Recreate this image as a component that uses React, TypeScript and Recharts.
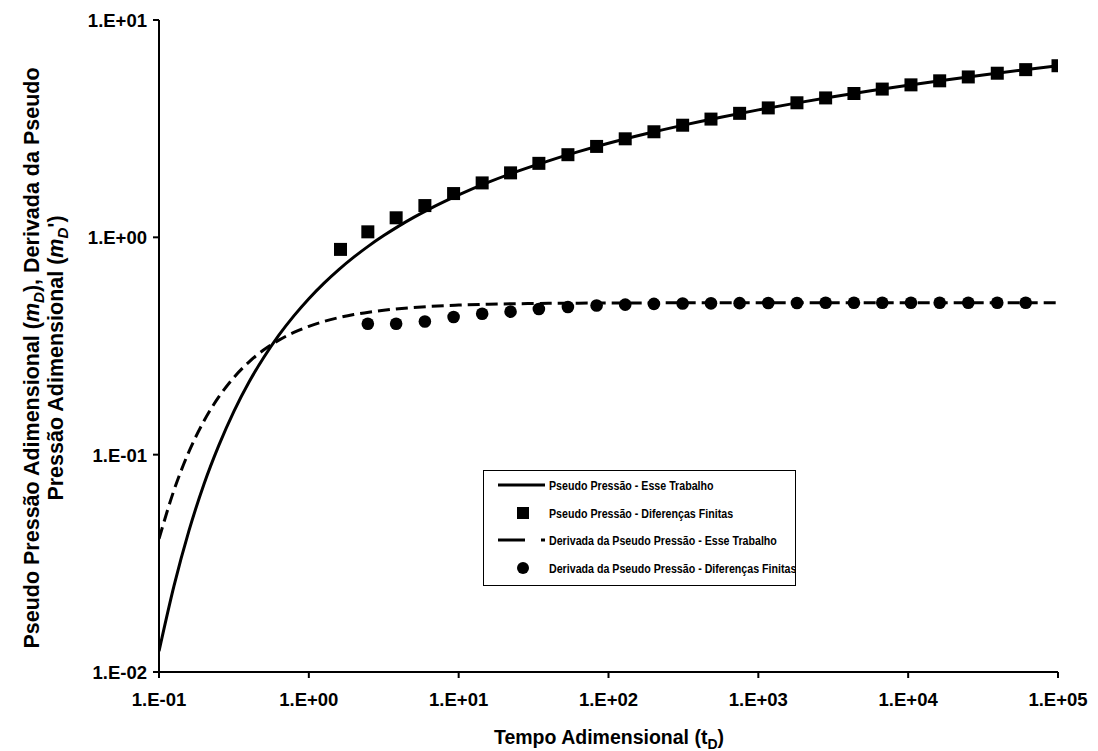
import React from 'react';
import { ComposedChart, Line, Scatter, XAxis, YAxis, Legend } from 'recharts';

// Analytical curves
const curveT = [0.1, 0.1259, 0.1585, 0.1995, 0.2512, 0.3162, 0.3981, 0.5012, 0.631, 0.7943, 1, 1.259, 1.585, 1.995, 2.512, 3.162, 3.981, 5.012, 6.31, 7.943, 10, 15.85, 25.12, 39.81, 63.1, 100, 177.8, 316.2, 562.3, 1000, 1778, 3162, 5623, 10000, 17783, 31623, 56234, 100000];
const curvePD = [0.01246, 0.0249, 0.0447, 0.0731, 0.1106, 0.1583, 0.2155, 0.2806, 0.3544, 0.435, 0.5221, 0.6142, 0.7108, 0.8107, 0.9137, 1.0187, 1.1262, 1.2349, 1.3455, 1.456, 1.5683, 1.7941, 2.0215, 2.2497, 2.4788, 2.7083, 2.995, 3.283, 3.571, 3.858, 4.146, 4.434, 4.722, 5.01, 5.298, 5.585, 5.873, 6.161];
const curveDeriv = [0.041, 0.0686, 0.1033, 0.1428, 0.1848, 0.2268, 0.2668, 0.3037, 0.3365, 0.365, 0.3894, 0.41, 0.4271, 0.4411, 0.4526, 0.462, 0.4696, 0.4757, 0.4806, 0.4845, 0.4877, 0.4922, 0.495, 0.4969, 0.498, 0.4988, 0.4993, 0.4996, 0.4998, 0.4999, 0.5, 0.5, 0.5, 0.5, 0.5, 0.5, 0.5, 0.5];

// Finite differences
const fdT = [1.627, 2.476, 3.826, 5.95, 9.25, 14.35, 22.2, 34.3, 53.6, 83.3, 129.3, 201, 312.5, 483, 750, 1165, 1810, 2813, 4346, 6715, 10440, 16230, 25190, 39330, 60870, 100000];
const fdPD = [0.88, 1.06, 1.23, 1.4, 1.59, 1.78, 1.98, 2.19, 2.4, 2.62, 2.84, 3.06, 3.28, 3.5, 3.72, 3.94, 4.16, 4.38, 4.59, 4.81, 5.03, 5.25, 5.47, 5.69, 5.91, 6.16];
const fdDerivT = [2.476, 3.826, 5.95, 9.25, 14.35, 22.2, 34.3, 53.6, 83.3, 129.3, 201, 312.5, 483, 750, 1165, 1810, 2813, 4346, 6715, 10440, 16230, 25190, 39330, 60870];
const fdDeriv = [0.4, 0.4, 0.41, 0.43, 0.445, 0.455, 0.468, 0.478, 0.486, 0.49, 0.494, 0.496, 0.497, 0.498, 0.499, 0.499, 0.5, 0.5, 0.5, 0.5, 0.5, 0.5, 0.5, 0.5];

const xTicks = [0.1, 1, 10, 100, 1000, 10000, 100000];
const xTickLabels = ['1.E-01', '1.E+00', '1.E+01', '1.E+02', '1.E+03', '1.E+04', '1.E+05'];
const yTicks = [0.01, 0.1, 1, 10];
const yTickLabels = ['1.E-02', '1.E-01', '1.E+00', '1.E+01'];

const legendLabels = [
  'Pseudo Pressão - Esse Trabalho',
  'Pseudo Pressão - Diferenças Finitas',
  'Derivada da Pseudo Pressão - Esse Trabalho',
  'Derivada da Pseudo Pressão - Diferenças Finitas',
];

const pdLine = curveT.map((t, i) => ({ t, v: curvePD[i] }));
const derivLine = curveT.map((t, i) => ({ t, v: curveDeriv[i] }));
const pdPoints = fdT.map((t, i) => ({ t, v: fdPD[i] }));
const derivPoints = fdDerivT.map((t, i) => ({ t, v: fdDeriv[i] }));

const FONT = "'Liberation Sans', Arial, Helvetica, sans-serif";

const findLabel = (ticks: number[], labels: string[], v: number) => {
  let best = 0;
  ticks.forEach((t, i) => {
    if (Math.abs(Math.log10(t) - Math.log10(v)) < Math.abs(Math.log10(ticks[best]) - Math.log10(v))) best = i;
  });
  return labels[best];
};

const XTick = (props: any) => {
  const { x, y, payload } = props;
  return (
    <text x={x} y={y} dy={26} textAnchor="middle" fontFamily={FONT} fontWeight="bold" fontSize={18.5} fill="#000">
      {findLabel(xTicks, xTickLabels, payload.value)}
    </text>
  );
};

const YTick = (props: any) => {
  const { x, y, payload } = props;
  return (
    <text x={x} y={y} dx={-4} dy={7} textAnchor="end" fontFamily={FONT} fontWeight="bold" fontSize={18.5} fill="#000">
      {findLabel(yTicks, yTickLabels, payload.value)}
    </text>
  );
};

const XTitle = () => (
  <text x={609} y={744} textAnchor="middle" fontFamily={FONT} fontWeight="bold" fontSize={19.5} fill="#000">
    Tempo Adimensional (t<tspan fontSize={14} dy={5}>D</tspan><tspan dy={-5}>)</tspan>
  </text>
);

const YTitle = () => {
  const cy = 358;
  return (
    <g>
      <text x={39} y={cy} transform={`rotate(-90 39 ${cy})`} textAnchor="middle" fontFamily={FONT} fontWeight="bold" fontSize={21.5} fill="#000">
        Pseudo Pressão Adimensional (<tspan fontStyle="italic">m</tspan><tspan fontStyle="italic" fontSize={15} dy={5}>D</tspan><tspan dy={-5}>), Derivada da Pseudo</tspan>
      </text>
      <text x={63} y={cy} transform={`rotate(-90 63 ${cy})`} textAnchor="middle" fontFamily={FONT} fontWeight="bold" fontSize={21.5} fill="#000">
        Pressão Adimensional (<tspan fontStyle="italic">m</tspan><tspan fontStyle="italic" fontSize={15} dy={5}>D</tspan><tspan dy={-5}>')</tspan>
      </text>
    </g>
  );
};

const Square = (props: any) => {
  const { cx, cy } = props;
  if (cx == null || cy == null) return null;
  return <rect x={cx - 6.5} y={cy - 6.5} width={13} height={13} fill="#000" />;
};

const Dot = (props: any) => {
  const { cx, cy } = props;
  if (cx == null || cy == null) return null;
  return <circle cx={cx} cy={cy} r={6.3} fill="#000" />;
};

const LegendBox = () => {
  const rows = [14, 42, 69, 97];
  const textX = 65;
  const sx = 0.82;
  return (
    <div style={{ width: 313, height: 116, border: '1px solid #000', boxSizing: 'border-box', background: '#fff' }}>
      <svg width={311} height={114} style={{ display: 'block' }}>
        <line x1={14} y1={rows[0]} x2={61} y2={rows[0]} stroke="#000" strokeWidth={3} />
        <rect x={39 - 6} y={rows[1] - 6} width={12} height={12} fill="#000" />
        <line x1={14} y1={rows[2]} x2={41} y2={rows[2]} stroke="#000" strokeWidth={3} />
        <line x1={57} y1={rows[2]} x2={61} y2={rows[2]} stroke="#000" strokeWidth={3} />
        <circle cx={39} cy={rows[3]} r={6} fill="#000" />
        <g transform={`scale(${sx} 1)`}>
          {legendLabels.map((l, i) => (
            <text key={i} x={textX / sx} y={rows[i] + 4.8} fontFamily={FONT} fontWeight="bold" fontSize={13} fill="#000">{l}</text>
          ))}
        </g>
      </svg>
    </div>
  );
};

export default function App() {
  return (
    <div style={{ position: 'absolute', left: 0, top: 0, width: 1098, height: 751, background: '#fff' }}>
      <ComposedChart width={1098} height={751} margin={{ top: 20, right: 40, bottom: 0, left: 0 }}>
        <XAxis
          xAxisId="main"
          dataKey="t"
          type="number"
          scale="log"
          domain={[0.1, 100000]}
          allowDataOverflow
          ticks={xTicks}
          tick={<XTick />}
          tickSize={6}
          height={79}
          axisLine={{ stroke: '#000', strokeWidth: 2 }}
          tickLine={{ stroke: '#000', strokeWidth: 2 }}
          label={<XTitle />}
        />
        <XAxis xAxisId="top" orientation="top" type="number" domain={[0, 1]} height={0} tick={false} tickLine={false} axisLine={{ stroke: '#000', strokeWidth: 2 }} />
        <YAxis
          yAxisId="main"
          dataKey="v"
          type="number"
          scale="log"
          domain={[0.01, 10]}
          allowDataOverflow
          ticks={yTicks}
          tick={<YTick />}
          tickSize={6}
          width={159}
          axisLine={{ stroke: '#000', strokeWidth: 2 }}
          tickLine={{ stroke: '#000', strokeWidth: 2 }}
          label={<YTitle />}
        />
        <YAxis yAxisId="right" orientation="right" type="number" domain={[0, 1]} width={0} tick={false} tickLine={false} axisLine={{ stroke: '#000', strokeWidth: 2 }} />
        <Line xAxisId="main" yAxisId="main" data={derivLine} dataKey="v" type="monotone" stroke="#000" strokeWidth={3} strokeDasharray="12 6" dot={false} isAnimationActive={false} />
        <Line xAxisId="main" yAxisId="main" data={pdLine} dataKey="v" type="monotone" stroke="#000" strokeWidth={3} dot={false} isAnimationActive={false} />
        <Scatter xAxisId="main" yAxisId="main" data={pdPoints} dataKey="v" shape={<Square />} isAnimationActive={false} />
        <Scatter xAxisId="main" yAxisId="main" data={derivPoints} dataKey="v" shape={<Dot />} isAnimationActive={false} />
        <Legend layout="vertical" align="center" verticalAlign="middle" content={<LegendBox />} wrapperStyle={{ left: 483, top: 470, width: 313, height: 116 }} />
      </ComposedChart>
    </div>
  );
}
